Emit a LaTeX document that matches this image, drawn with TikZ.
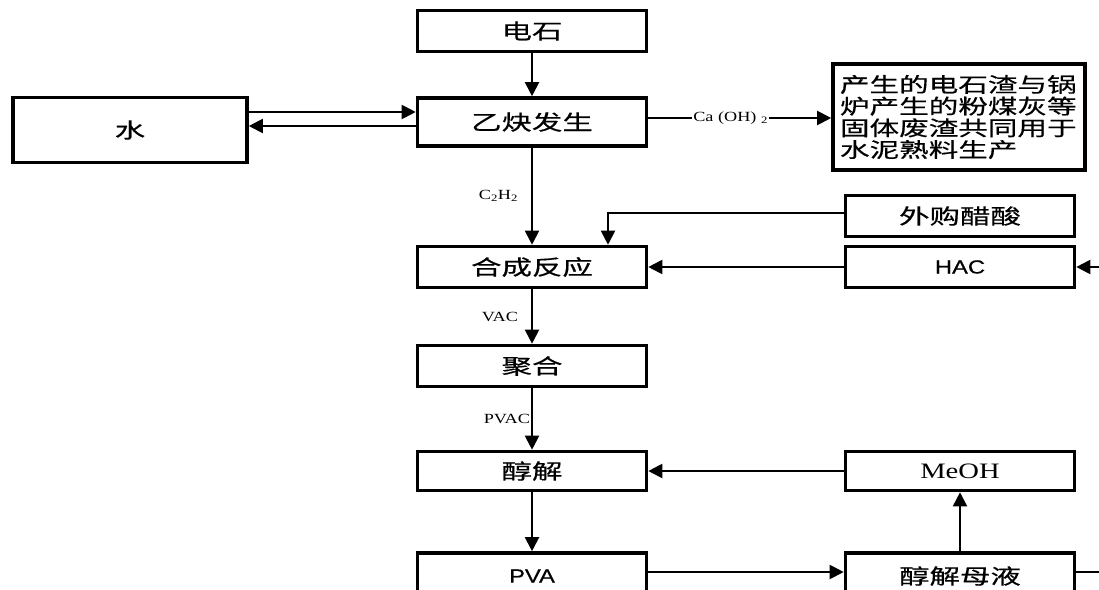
\documentclass[tikz,border=0pt]{standalone}
\usepackage{fontspec}
\setmainfont{Liberation Serif}
\newfontfamily\cjk[FakeStretch=1.45,FakeBold=0.5]{Noto Sans CJK SC}
\newfontfamily\arialf[FakeStretch=1.25,FakeBold=0.6]{Liberation Sans}
\newfontfamily\timesf[FakeStretch=1.3]{Liberation Serif}
\usetikzlibrary{positioning,arrows.meta,calc}

\begin{document}
\begin{tikzpicture}[x=1pt, y=-1pt, every node/.style={font=\cjk\fontsize{21}{21.7}\selectfont}]
  \tikzset{
      procbox/.style={draw, line width=3.6pt, minimum width=229pt, minimum height=41pt, inner sep=0pt, align=center},
      flow/.style={line width=2pt, -{Triangle[length=14pt, width=14pt]}},
      plain/.style={line width=2pt},
      tag/.style={font=\timesf\fontsize{14}{14}\selectfont, inner sep=1pt}
  }
  \useasboundingbox (0,0) rectangle (1099,589);
  \clip (0,0) rectangle (1099,589);

  % main line
  \node[procbox] (dianshi) at (532,31)  {电石};
  \node[procbox, minimum height=48pt] (yqfs) at (532,122) {乙炔发生};
  \node[procbox] (hecheng) at (532,267) {合成反应};
  \node[procbox] (juhe)    at (532,366) {聚合};
  \node[procbox, minimum height=39pt] (chunjie) at (532,471) {醇解};
  \node[procbox, minimum height=46pt, font=\arialf\fontsize{19}{19}\selectfont] (pva) at (532,576) {PVA};

  % side boxes
  \node[procbox, minimum width=234pt, minimum height=65pt] (shui) at (130,130) {水};
  \node[procbox, minimum width=252pt, minimum height=106pt] (zhubox) at (959,117) {};
  \node[text width=238pt, align=left, inner sep=0pt, font=\cjk\fontsize{20.4}{21.7}\selectfont] (zhu) at (zhubox.center)
        {产生的电石渣与锅\\炉产生的粉煤灰等\\固体废渣共同用于\\水泥熟料生产};
  \node[procbox] (waigou) at (960,216) {外购醋酸};
  \node[procbox, font=\arialf\fontsize{19}{19}\selectfont] (hac) at (960,267) {HAC};
  \node[procbox, minimum height=39pt, font=\timesf\fontsize{22}{22}\selectfont] (meoh) at (960,471) {MeOH};
  \node[procbox, minimum height=46pt] (muye) at (960,576) {醇解母液};

  \coordinate (hacin) at (1099,267);
  \coordinate (muyeout) at (1099,572);

  % connectors
  \draw[flow] (dianshi) -- (yqfs);
  \draw[flow] ([yshift=10pt]yqfs.west -| shui.east) -- ([yshift=10pt]yqfs.west);
  \draw[flow] ([yshift=-4pt]yqfs.west) -- ([yshift=-4pt]yqfs.west -| shui.east);
  \draw[flow] ([yshift=4pt]yqfs.east) -- ([yshift=4pt]yqfs.east -| zhubox.west)
      node[pos=0.45, fill=white, tag] {Ca (OH) \textsubscript{2}};
  \draw[flow] (yqfs) -- (hecheng) node[midway, left=12pt, tag] {C\textsubscript{2}H\textsubscript{2}};
  \draw[flow] ([yshift=3pt]waigou.west) -| ([xshift=76pt]hecheng.north);
  \draw[flow] (hac) -- (hecheng);
  \draw[flow] (hacin) -- (hac);
  \draw[flow] (hecheng) -- (juhe) node[midway, left=12pt, tag] {VAC};
  \draw[flow] (juhe) -- (chunjie) node[midway, left=0pt, tag] {PVAC};
  \draw[flow] (meoh) -- (chunjie);
  \draw[flow] (chunjie) -- (pva);
  \draw[flow] ([yshift=4pt]pva.east) -- ([yshift=4pt]muye.west);
  \draw[flow] (muye) -- (meoh);
  \draw[plain] (muye.east |- muyeout) -- (muyeout);
\end{tikzpicture}
\end{document}
